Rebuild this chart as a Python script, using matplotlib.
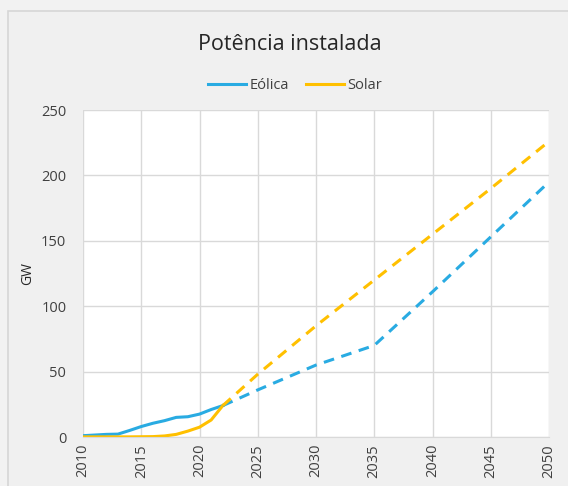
import matplotlib
matplotlib.use("Agg")
import matplotlib.pyplot as plt
from matplotlib.patches import Rectangle

# historical data (solid)
hist_years = [2010, 2011, 2012, 2013, 2014, 2015, 2016, 2017, 2018, 2019, 2020, 2021, 2022]
eolica_hist = [1.0, 1.5, 2.0, 2.2, 5.0, 8.0, 10.5, 12.5, 15.0, 15.5, 17.5, 21.0, 24.0]
solar_hist = [0.1, 0.1, 0.1, 0.1, 0.1, 0.2, 0.3, 0.8, 2.0, 4.5, 7.5, 13.0, 24.0]

# projections (dashed)
proj_years = [2022, 2025, 2030, 2035, 2040, 2045, 2050]
eolica_proj = [24.0, 36.0, 55.0, 70.0, 111.0, 153.0, 195.0]
solar_proj = [24.0, 48.0, 85.0, 120.0, 155.0, 190.0, 226.0]

blue = '#29ABE2'
yellow = '#FFC000'

plt.rcParams['font.family'] = ['Open Sans', 'DejaVu Sans']

fig = plt.figure(figsize=(5.68, 4.86), dpi=100, facecolor='#f2f2f2')
fig.patches.append(Rectangle((8 / 568, -0.1), 1.2, 1 - 11 / 486 + 0.1,
                             transform=fig.transFigure, facecolor='#f0f0f0',
                             edgecolor='#d6d6d6', linewidth=1.2, zorder=-5))

ax = fig.add_axes([83 / 568, 49 / 486, 466 / 568, 327 / 486])
ax.set_zorder(2)
ax.set_facecolor('white')

ax.plot(hist_years, eolica_hist, color=blue, lw=2.2, label='Eólica')
ax.plot(hist_years, solar_hist, color=yellow, lw=2.2, label='Solar')
ax.plot(proj_years, eolica_proj, color=blue, lw=2.2, ls=(0, (3.5, 2.5)))
ax.plot(proj_years, solar_proj, color=yellow, lw=2.2, ls=(0, (3.5, 2.5)))

ax.set_xlim(2010, 2050)
ax.set_ylim(0, 250)
ax.set_xticks(range(2010, 2051, 5))
ax.set_yticks(range(0, 251, 50))
ax.grid(True, color='#d9d9d9', lw=1)
ax.set_axisbelow(True)
for s in ax.spines.values():
    s.set_visible(False)
ax.spines['bottom'].set_visible(True)
ax.spines['bottom'].set_color('#d9d9d9')
ax.tick_params(length=0, colors='#404040', labelsize=10.5)
ax.tick_params(axis='x', rotation=90, pad=5)
ax.tick_params(axis='y', pad=12)
ax.set_ylabel('GW', fontsize=10, color='#262626', labelpad=4)

fig.text(0.51, 0.909, 'Potência instalada', ha='center', va='center', fontsize=15.5, color='#262626')
ax.legend(loc='center', bbox_to_anchor=(0.455, 1.075), ncol=2, frameon=False,
          fontsize=10.5, handlelength=2.6, handletextpad=0.25, columnspacing=1.2,
          labelcolor='#404040')

fig.savefig('out.png', dpi=100, facecolor=fig.get_facecolor())
